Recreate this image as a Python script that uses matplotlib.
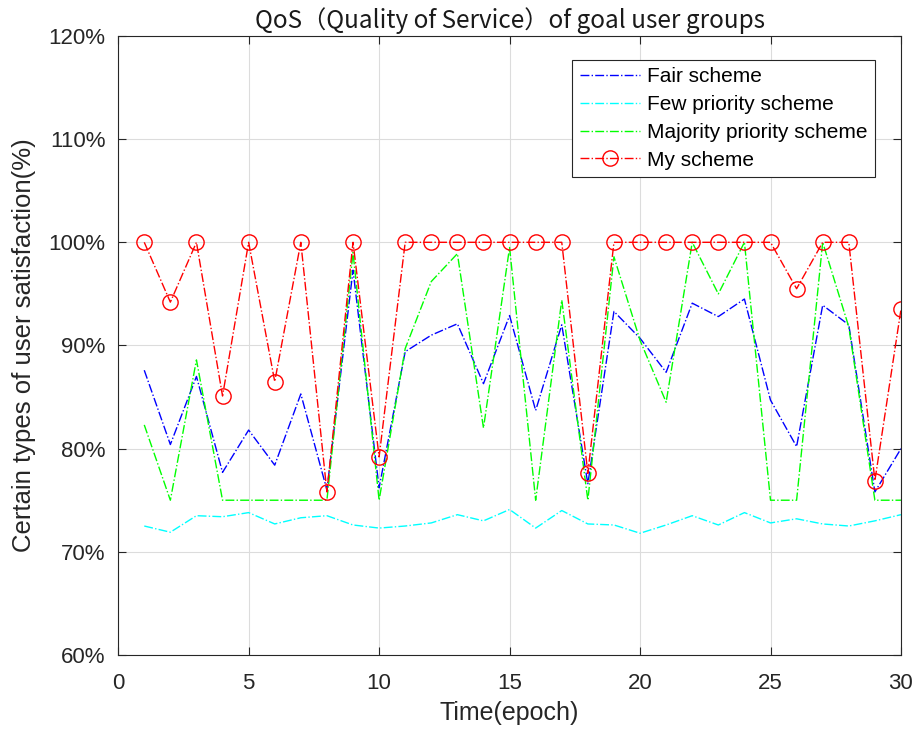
import matplotlib.pyplot as plt
from matplotlib.ticker import FuncFormatter

plt.rcParams['font.family'] = ['Liberation Sans', 'DejaVu Sans']

epoch = list(range(1, 31))

fair = [87.6, 80.4, 87.0, 77.7, 81.8, 78.4, 85.3, 76.0, 97.3, 76.2,
        89.4, 91.0, 92.1, 86.3, 92.9, 83.7, 92.0, 76.6, 93.3, 90.7,
        87.4, 94.1, 92.8, 94.5, 84.7, 80.2, 93.9, 92.0, 75.8, 80.0]
few = [72.5, 71.9, 73.5, 73.4, 73.8, 72.7, 73.3, 73.5, 72.6, 72.3,
       72.5, 72.8, 73.6, 73.0, 74.1, 72.3, 74.0, 72.7, 72.6, 71.8,
       72.6, 73.5, 72.6, 73.8, 72.8, 73.2, 72.7, 72.5, 73.0, 73.6]
majority = [82.3, 75.0, 88.6, 75.0, 75.0, 75.0, 75.0, 75.0, 99.0, 75.0,
            89.7, 96.2, 98.9, 82.0, 99.5, 75.0, 94.4, 75.0, 98.6, 90.5,
            84.5, 100.0, 95.0, 100.0, 75.0, 75.0, 100.0, 91.8, 75.0, 75.0]
mine = [100, 94.2, 100, 85.1, 100, 86.5, 100, 75.8, 100, 79.2,
        100, 100, 100, 100, 100, 100, 100, 77.6, 100, 100,
        100, 100, 100, 100, 100, 95.5, 100, 100, 76.9, 93.5]

fig = plt.figure(figsize=(9.16, 7.31), dpi=100)
ax = fig.add_axes([0.129, 0.104, 0.8546, 0.8468])

ax.plot(epoch, fair, '-.', color='#0000ff', lw=1.0, label='Fair scheme')
ax.plot(epoch, few, '-.', color='#00ffff', lw=1.0, label='Few priority scheme')
ax.plot(epoch, majority, '-.', color='#00ff00', lw=1.0, label='Majority priority scheme')
ax.plot(epoch, mine, '-.', color='#ff0000', lw=1.0, marker='o', ms=11,
        mfc='none', mec='#ff0000', mew=1.0, label='My scheme')

ax.set_xlim(0, 30)
ax.set_ylim(60, 120)
ax.set_xticks(range(0, 31, 5))
ax.set_yticks(range(60, 121, 10))
ax.yaxis.set_major_formatter(FuncFormatter(lambda v, p: '%d%%' % v))
ax.tick_params(direction='in', top=True, right=True, labelsize=16,
               colors='#262626', length=6)
ax.tick_params(axis='y', pad=9)
ax.tick_params(axis='x', pad=13)
ax.grid(True, color='#dcdcdc', lw=0.8)
for s in ax.spines.values():
    s.set_color('#262626')
    s.set_linewidth(0.8)

ax.set_title('QoS（Quality of Service）of goal user groups', fontsize=17.5,
             color='#1a1a1a', pad=6,
             family=['Noto Sans CJK SC', 'DejaVu Sans'])
ax.set_xlabel('Time(epoch)', fontsize=18, color='#262626', labelpad=5)
ax.set_ylabel('Certain types of user satisfaction(%)', fontsize=18.5,
              color='#262626', labelpad=9)

leg = ax.legend(loc='upper right', bbox_to_anchor=(0.967, 0.961), fontsize=15,
                fancybox=False, framealpha=1, edgecolor='#262626',
                handlelength=2.9, handletextpad=0.35, borderpad=0.35,
                labelspacing=0.42, borderaxespad=0)
leg.get_frame().set_linewidth(0.8)

fig.savefig('out.png', dpi=100)
